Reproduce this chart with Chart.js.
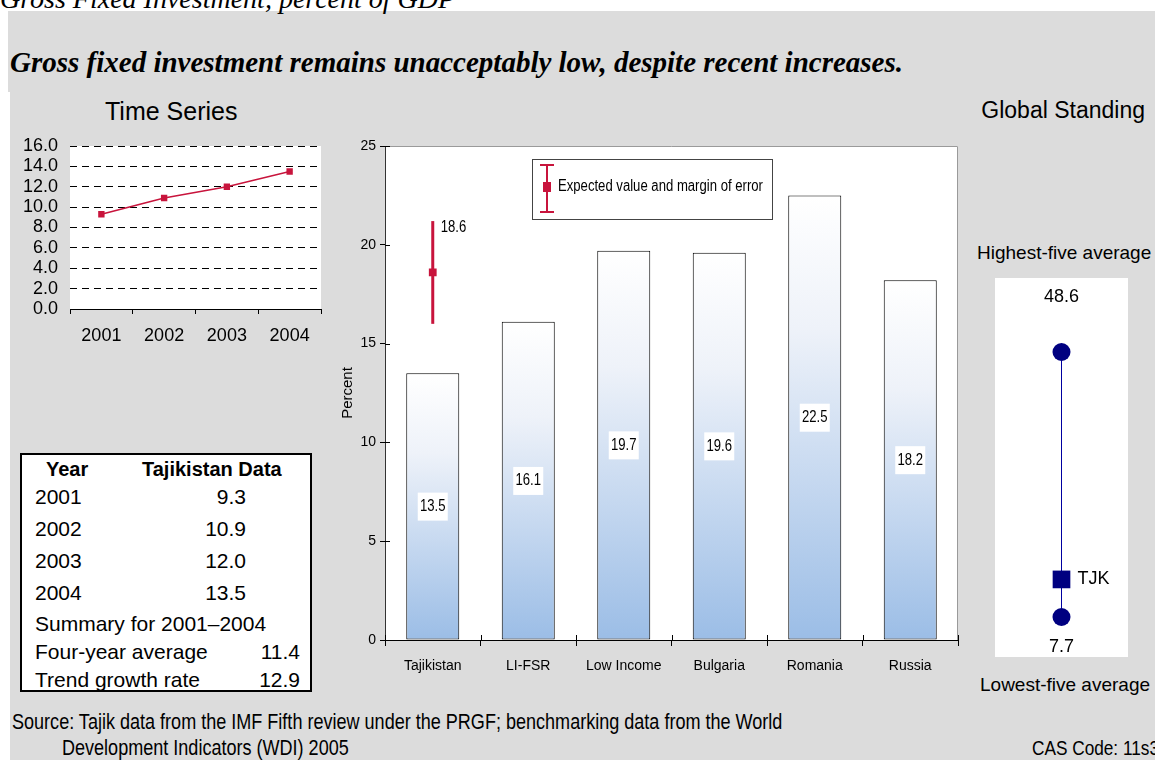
<!DOCTYPE html>
<html>
<head>
<meta charset="utf-8">
<title>Gross Fixed Investment, percent of GDP</title>
<script src="https://cdn.jsdelivr.net/npm/chart.js@4.4.1/dist/chart.umd.min.js"></script>
<style>
  html, body { margin: 0; padding: 0; background: #ffffff; }
  body { position: relative; width: 1155px; height: 760px; overflow: hidden;
         font-family: "Liberation Sans", Arial, sans-serif; color: #000; }
  .abs { position: absolute; white-space: nowrap; }
  .panel { position: absolute; background: #dcdcdc; }
  .serif { font-family: "Liberation Serif", "Times New Roman", serif; font-style: italic; }
  .narrow { display: inline-block; transform: scaleX(0.82); transform-origin: 0 0; }
  canvas { position: absolute; }
  #dataBox { position: absolute; left: 20px; top: 453px; width: 288px; height: 235px;
             background: #fff; border: 2px solid #000; font-size: 21px; }
  #dataBox .cell { position: absolute; white-space: nowrap; line-height: 24px; height: 24px; }
</style>
</head>
<body>
  <div class="panel" style="left:8px; top:11px; width:1147px; height:81px;"></div>
  <div class="panel" style="left:10px; top:92px; width:1145px; height:668px;"></div>

  <div class="abs serif" style="left:0px; top:-17px; font-size:28px; line-height:32px;">Gross Fixed Investment, percent of GDP</div>
  <div class="abs serif" style="left:10px; top:46px; font-size:29px; line-height:32px; font-weight:bold;">Gross fixed investment remains unacceptably low, despite recent increases.</div>

  <div class="abs" style="left:105px; top:97px; font-size:25px; line-height:28px;">Time Series</div>
  <div class="abs" style="right:10px; top:97px; font-size:23px; line-height:26px;">Global Standing</div>

  <canvas id="tsChart" width="330" height="235" style="left:10px; top:125px;"></canvas>
  <canvas id="barChart" width="635" height="560" style="left:335px; top:130px;"></canvas>

  <div class="abs" style="left:977px; top:242px; font-size:19px; line-height:22px;">Highest-five average</div>
  <canvas id="standChart" width="133" height="379" style="left:995px; top:278px; background:#fff;"></canvas>
  <div class="abs" style="left:980px; top:674px; font-size:19px; line-height:22px;">Lowest-five average</div>

  <div id="dataBox"></div>

  <div class="abs" style="left:12px; top:709px; font-size:22px; line-height:26px;"><span class="narrow">Source: Tajik data from the IMF Fifth review under the PRGF; benchmarking data from the World</span></div>
  <div class="abs" style="left:62px; top:735px; font-size:22px; line-height:26px;"><span class="narrow">Development Indicators (WDI) 2005</span></div>
  <div class="abs" style="left:1032px; top:735px; font-size:21px; line-height:26px;"><span class="narrow">CAS Code: 11s3</span></div>

<script>
// ---- data ----
const years = ['2001', '2002', '2003', '2004'];
const tjkInvestment = [9.3, 10.9, 12.0, 13.5];
const timeTicks = [0, 2, 4, 6, 8, 10, 12, 14, 16];

const peers = ['Tajikistan', 'LI-FSR', 'Low Income', 'Bulgaria', 'Romania', 'Russia'];
const peerInvestment = [13.5, 16.1, 19.7, 19.6, 22.5, 18.2];
const expectedValue = [18.6, null, null, null, null, null];
const expectedLow = [16.0, null, null, null, null, null];
const expectedHigh = [21.2, null, null, null, null, null];
const percentTicks = [0, 5, 10, 15, 20, 25];

const standingEnds = [7.7, 48.6];       // lowest-five and highest-five averages
const standingTjk = [13.5];

const summaryLabels = ['Four-year average', 'Trend growth rate'];
const summaryValues = [11.4, 12.9];

// ---- style ----
const SANS = '"Liberation Sans", Arial, sans-serif';
const CRIMSON = '#c8143c';
const NAVY = '#000080';
const SQUEEZE = 0.82;   // horizontal squeeze for the condensed labels

Chart.defaults.animation = false;
Chart.defaults.responsive = false;
Chart.defaults.events = [];
Chart.defaults.plugins.legend.display = false;
Chart.defaults.plugins.tooltip.enabled = false;
Chart.defaults.color = '#000';

// condensed text drawn on a canvas
function narrowText(ctx, text, x, y, align) {
  ctx.save();
  ctx.translate(x, y);
  ctx.scale(SQUEEZE, 1);
  ctx.textAlign = align || 'left';
  ctx.fillText(text, 0, 0);
  ctx.restore();
}

// white plotting area behind the data
const plotBackground = {
  id: 'plotBackground',
  beforeDraw(chart) {
    const { ctx, chartArea: a } = chart;
    ctx.save();
    ctx.fillStyle = '#ffffff';
    ctx.fillRect(a.left, a.top, a.right - a.left, a.bottom - a.top);
    ctx.restore();
  }
};

// ---- time series ----
new Chart(document.getElementById('tsChart'), {
  type: 'line',
  data: {
    labels: years,
    datasets: [{
      data: tjkInvestment,
      borderColor: CRIMSON,
      backgroundColor: CRIMSON,
      borderWidth: 1.5,
      pointStyle: 'rect',
      pointRadius: 4.5,
      pointBorderWidth: 0,
      tension: 0
    }]
  },
  options: {
    layout: { padding: { top: 14, right: 19, left: 0, bottom: 0 } },
    scales: {
      x: {
        offset: true,
        grid: { drawOnChartArea: false, offset: true, tickLength: 5, color: '#000' },
        border: { color: '#000', width: 1 },
        ticks: { font: { family: SANS, size: 18 }, padding: 11, color: '#000' },
        afterFit(s) { s.height = 51; }
      },
      y: {
        min: 0, max: 16,
        afterBuildTicks(s) { s.ticks = timeTicks.map(v => ({ value: v })); },
        ticks: { autoSkip: false, callback: v => Number(v).toFixed(1), font: { family: SANS, size: 18, lineHeight: 1 }, padding: 12, color: '#000' },
        grid: { color: '#000', drawTicks: false, lineWidth: 1 },
        border: { display: false, dash: [7, 5] },
        afterFit(s) { s.width = 60; }
      }
    }
  },
  plugins: [plotBackground]
});

// ---- comparator bars ----
function barFill(context) {
  const chart = context.chart;
  const { chartArea, scales } = chart;
  if (!chartArea || context.type !== 'data') return '#c6d7ee';
  const top = scales.y.getPixelForValue(context.raw);
  const base = scales.y.getPixelForValue(0);
  const g = chart.ctx.createLinearGradient(0, top, 0, base);
  g.addColorStop(0, '#ffffff');
  g.addColorStop(0.3, '#eef2f9');
  g.addColorStop(1, '#9bbde6');
  return g;
}

const barDecorations = {
  id: 'barDecorations',
  beforeDatasetsDraw(chart) {
    const { ctx, chartArea: a, scales: { x, y } } = chart;
    ctx.save();
    // frame on the top and right of the plot
    ctx.strokeStyle = '#9a9a9a';
    ctx.lineWidth = 1;
    ctx.beginPath();
    ctx.moveTo(a.left, a.top + 0.5);
    ctx.lineTo(a.right - 0.5, a.top + 0.5);
    ctx.lineTo(a.right - 0.5, a.bottom);
    ctx.stroke();
    // tick marks continue a little inside the plot
    ctx.strokeStyle = '#000';
    ctx.beginPath();
    for (let i = 0; i <= peers.length; i++) {
      const px = Math.round(x.getPixelForValue(i - 0.5)) + 0.5;
      ctx.moveTo(px, a.bottom);
      ctx.lineTo(px, a.bottom - 5);
    }
    percentTicks.forEach(v => {
      const py = Math.round(y.getPixelForValue(v)) + 0.5;
      ctx.moveTo(a.left, py);
      ctx.lineTo(a.left + 5, py);
    });
    ctx.stroke();
    ctx.restore();
  },
  afterDatasetsDraw(chart) {
    const { ctx, chartArea: a, scales: { x, y } } = chart;
    ctx.save();
    // value boxes in the middle of each bar
    ctx.font = '16px ' + SANS;
    ctx.textBaseline = 'middle';
    peerInvestment.forEach((v, i) => {
      const cx = x.getPixelForValue(i);
      const cy = y.getPixelForValue(v / 2);
      ctx.fillStyle = '#ffffff';
      ctx.fillRect(cx - 15, cy - 14, 30, 28);
      ctx.fillStyle = '#000';
      narrowText(ctx, v.toFixed(1), cx, cy, 'center');
    });
    // margin of error for the expected value
    expectedValue.forEach((v, i) => {
      if (v === null) return;
      const cx = x.getPixelForValue(i);
      const yTop = y.getPixelForValue(expectedHigh[i]);
      const yBot = y.getPixelForValue(expectedLow[i]);
      ctx.strokeStyle = CRIMSON;
      ctx.lineWidth = 3;
      ctx.beginPath();
      ctx.moveTo(cx, yTop);
      ctx.lineTo(cx, yBot);
      ctx.stroke();
      ctx.fillStyle = '#000';
      narrowText(ctx, v.toFixed(1), cx + 8, yTop + 7, 'left');
    });
    // legend box
    const lx = a.left + 147, ly = a.top + 13, lw = 240, lh = 60;
    ctx.fillStyle = '#ffffff';
    ctx.fillRect(lx, ly, lw, lh);
    ctx.strokeStyle = '#444';
    ctx.lineWidth = 1;
    ctx.strokeRect(lx + 0.5, ly + 0.5, lw, lh);
    const sx = lx + 15, sTop = ly + 6, sBot = ly + 53, sMid = ly + 28;
    ctx.strokeStyle = CRIMSON;
    ctx.lineWidth = 2;
    ctx.beginPath();
    ctx.moveTo(sx, sTop); ctx.lineTo(sx, sBot);
    ctx.moveTo(sx - 7, sTop); ctx.lineTo(sx + 7, sTop);
    ctx.moveTo(sx - 7, sBot); ctx.lineTo(sx + 7, sBot);
    ctx.stroke();
    ctx.fillStyle = CRIMSON;
    ctx.fillRect(sx - 4, sMid - 5, 8, 10);
    ctx.fillStyle = '#000';
    ctx.font = '16px ' + SANS;
    narrowText(ctx, 'Expected value and margin of error', lx + 26, sMid, 'left');
    ctx.restore();
  }
};

new Chart(document.getElementById('barChart'), {
  data: {
    labels: peers,
    datasets: [
      {
        type: 'line',
        data: expectedValue,
        showLine: false,
        pointStyle: 'rect',
        pointRadius: 5.5,
        pointBorderWidth: 0,
        pointBackgroundColor: CRIMSON,
        order: 0
      },
      {
        type: 'bar',
        data: peerInvestment,
        backgroundColor: barFill,
        borderColor: '#000',
        borderWidth: 1,
        borderSkipped: false,
        barPercentage: 0.555,
        categoryPercentage: 1,
        order: 1
      }
    ]
  },
  options: {
    layout: { padding: { top: 16, right: 12, left: 4, bottom: 0 } },
    scales: {
      x: {
        offset: true,
        grid: { drawOnChartArea: false, offset: true, tickLength: 6, color: '#000' },
        border: { color: '#000', width: 1 },
        ticks: { font: { family: SANS, size: 14 }, padding: 12, color: '#000' },
        afterFit(s) { s.height = 50; }
      },
      y: {
        min: 0, max: 25,
        afterBuildTicks(s) { s.ticks = percentTicks.map(v => ({ value: v })); },
        ticks: { autoSkip: false, font: { family: SANS, size: 14 }, padding: 4, color: '#000' },
        grid: { drawOnChartArea: false, tickLength: 5, color: '#000' },
        border: { color: '#333', width: 1 },
        title: { display: true, text: 'Percent', font: { family: SANS, size: 15 }, padding: 0, color: '#000' },
        afterFit(s) { s.width = 46; }
      }
    }
  },
  plugins: [plotBackground, barDecorations]
});

// ---- global standing ----
const standingLabels = {
  id: 'standingLabels',
  afterDatasetsDraw(chart) {
    const { ctx, scales: { x, y } } = chart;
    const cx = x.getPixelForValue(0);
    ctx.save();
    ctx.fillStyle = '#000';
    ctx.font = '18px ' + SANS;
    ctx.textBaseline = 'middle';
    ctx.textAlign = 'center';
    ctx.fillText(standingEnds[1].toFixed(1), cx, y.getPixelForValue(standingEnds[1]) - 55);
    ctx.fillText(standingEnds[0].toFixed(1), cx, y.getPixelForValue(standingEnds[0]) + 30);
    ctx.textAlign = 'left';
    ctx.fillText('TJK', cx + 16, y.getPixelForValue(standingTjk[0]));
    ctx.restore();
  }
};

new Chart(document.getElementById('standChart'), {
  type: 'scatter',
  data: {
    datasets: [
      {
        data: standingTjk.map(v => ({ x: 0, y: v })),
        pointStyle: 'rect',
        pointRadius: 12.5,
        pointBorderWidth: 0,
        pointBackgroundColor: NAVY,
        clip: false
      },
      {
        data: standingEnds.map(v => ({ x: 0, y: v })),
        showLine: true,
        borderColor: '#0000a0',
        borderWidth: 1,
        pointStyle: 'circle',
        pointRadius: 9,
        pointBorderWidth: 0,
        pointBackgroundColor: NAVY,
        clip: false
      }
    ]
  },
  options: {
    layout: { padding: { top: 74, bottom: 40, left: 0, right: 0 } },
    scales: {
      x: { display: false, min: -1, max: 1 },
      y: { display: false, min: standingEnds[0], max: standingEnds[1] }
    }
  },
  plugins: [standingLabels]
});

// ---- data table ----
const box = document.getElementById('dataBox');
const BOX_TOP = 453 + 2;
function cell(text, left, centre, opts = {}) {
  const d = document.createElement('div');
  d.className = 'cell';
  d.textContent = text;
  d.style.top = (centre - BOX_TOP - 12) + 'px';
  if (opts.right !== undefined) { d.style.right = opts.right + 'px'; } else { d.style.left = left + 'px'; }
  if (opts.bold) { d.style.fontWeight = 'bold'; d.style.fontSize = '20px'; }
  box.appendChild(d);
}
cell('Year', 24, 469, { bold: true });
cell('Tajikistan Data', 120, 469, { bold: true });
const rowCentres = [497, 529, 561, 593];
years.forEach((yr, i) => {
  cell(yr, 13, rowCentres[i]);
  cell(tjkInvestment[i].toFixed(1), 0, rowCentres[i], { right: 64 });
});
cell('Summary for ' + years[0] + '\u2013' + years[years.length - 1], 13, 624);
summaryLabels.forEach((lab, i) => {
  const c = [652, 680][i];
  cell(lab, 13, c);
  cell(summaryValues[i].toFixed(1), 0, c, { right: 10 });
});
</script>
</body>
</html>
